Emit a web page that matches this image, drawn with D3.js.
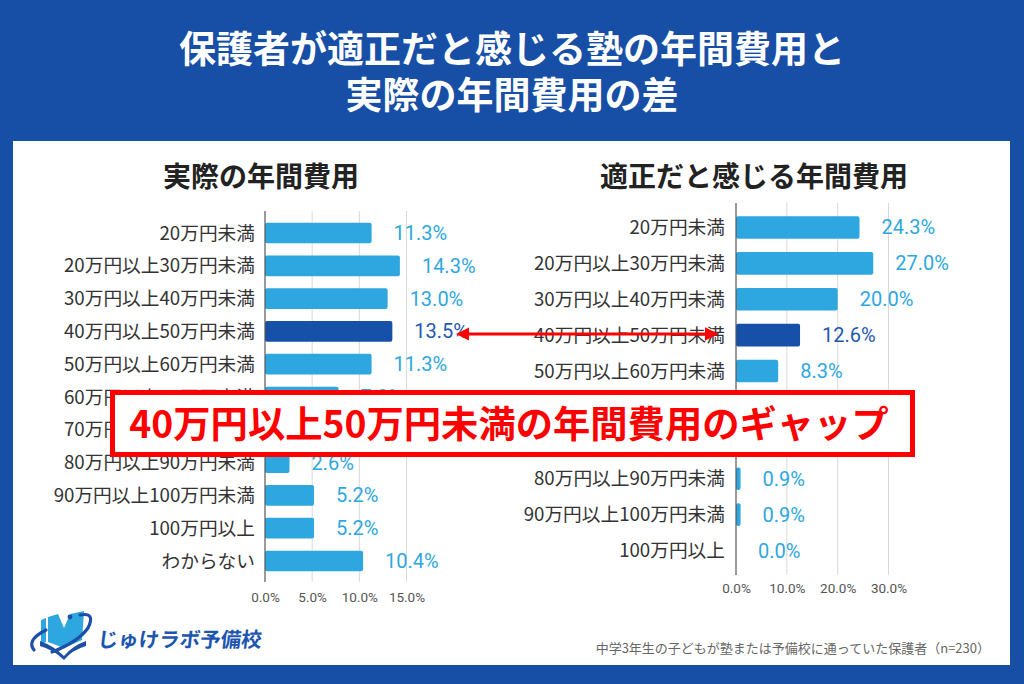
<!DOCTYPE html>
<html><head><meta charset="utf-8">
<script src="https://cdn.jsdelivr.net/npm/d3@7"></script>
<style>
html,body{margin:0;padding:0;background:#174EA6;}
svg{display:block;}
text{font-family:"Noto Sans CJK JP","Noto Sans",sans-serif;}
.num{font-family:Roboto,"Noto Sans",sans-serif;}
</style></head>
<body>
<svg id="chart" width="1024" height="684"></svg>
<script>
// ---- data ----
const titleLines = ["保護者が適正だと感じる塾の年間費用と", "実際の年間費用の差"];
const leftTitle = "実際の年間費用";
const rightTitle = "適正だと感じる年間費用";
const leftCats = ["20万円未満","20万円以上30万円未満","30万円以上40万円未満","40万円以上50万円未満","50万円以上60万円未満","60万円以上70万円未満","70万円以上80万円未満","80万円以上90万円未満","90万円以上100万円未満","100万円以上","わからない"];
const leftVals = [11.3,14.3,13.0,13.5,11.3,7.8,5.2,2.6,5.2,5.2,10.4];
const rightCats = ["20万円未満","20万円以上30万円未満","30万円以上40万円未満","40万円以上50万円未満","50万円以上60万円未満","60万円以上70万円未満","70万円以上80万円未満","80万円以上90万円未満","90万円以上100万円未満","100万円以上"];
const rightVals = [24.3,27.0,20.0,12.6,8.3,4.3,1.7,0.9,0.9,0.0];
const leftTicks = [0,5,10,15];
const rightTicks = [0,10,20,30];
const highlightCat = "40万円以上50万円未満";
const bannerText = "40万円以上50万円未満の年間費用のギャップ";
const logoText = "じゅけラボ予備校";
const footnote = "中学3年生の子どもが塾または予備校に通っていた保護者（n=230）";

const BAR = "#2EA7E0", BAR_HI = "#1650A8", LBL = "#2EA7E0", LBL_HI = "#2457B0";

const svg = d3.select("#chart");
svg.append("rect").attr("x",0).attr("y",0).attr("width",1024).attr("height",684).attr("fill","#174EA6");
svg.append("rect").attr("x",13).attr("y",141).attr("width",997).attr("height",524).attr("fill","#fff");

// title
svg.selectAll("text.title").data(titleLines).enter().append("text")
  .attr("class","title").attr("x",512).attr("y",(d,i)=>47+i*46)
  .attr("text-anchor","middle").attr("dominant-baseline","central")
  .attr("fill","#fff").attr("font-size",37).attr("font-weight",700).text(d=>d);

function panel(cfg){
  const g = svg.append("g");
  const x = d3.scaleLinear().domain([0,cfg.max]).range([cfg.x0,cfg.x1]);
  const y = d3.scaleBand().domain(cfg.cats).range([cfg.y0,cfg.y1]).paddingInner(0.37).paddingOuter(0.185);
  // subtitle
  g.append("text").attr("x",cfg.titleX).attr("y",174.5).attr("text-anchor","middle")
    .attr("dominant-baseline","central").attr("font-size",28).attr("font-weight",700)
    .attr("fill","#222").text(cfg.title);
  // grid
  g.selectAll("line.grid").data(cfg.ticks.slice(1)).enter().append("line")
    .attr("x1",d=>x(d)).attr("x2",d=>x(d)).attr("y1",cfg.ly0).attr("y2",cfg.ly1)
    .attr("stroke","#d9d9d9").attr("stroke-width",1);
  // x axis tick labels
  const ax = d3.axisBottom(x).tickValues(cfg.ticks).tickFormat(d=>d.toFixed(1)+"%").tickSize(0);
  const axg = g.append("g").attr("transform",`translate(0,${cfg.tickY})`).call(ax);
  axg.select(".domain").remove();
  axg.selectAll("text").attr("class","num").attr("font-size",13.5).attr("fill","#555")
    .attr("dy","0.35em").attr("y",0).style("font-family","Roboto,'Noto Sans',sans-serif");
  // bars
  g.selectAll("rect.bar").data(cfg.cats).enter().append("rect")
    .attr("x",x(0)).attr("y",d=>y(d)).attr("height",y.bandwidth())
    .attr("width",(d,i)=>Math.max(0,x(cfg.vals[i])-x(0)))
    .attr("rx",2).attr("fill",d=>d===highlightCat?BAR_HI:BAR);
  // value labels
  g.selectAll("text.val").data(cfg.cats).enter().append("text")
    .attr("class","num").attr("x",(d,i)=>x(cfg.vals[i])+22).attr("y",d=>y(d)+y.bandwidth()/2)
    .attr("dominant-baseline","central").attr("font-size",20)
    .attr("fill",d=>d===highlightCat?LBL_HI:LBL)
    .text((d,i)=>cfg.vals[i].toFixed(1)+"%");
  // category labels
  const ay = d3.axisLeft(y).tickSize(0).tickPadding(0);
  const ayg = g.append("g").attr("transform",`translate(${cfg.labelX},0)`).call(ay);
  ayg.select(".domain").remove();
  ayg.selectAll("text").attr("font-size",18.7).attr("fill","#333").attr("dy","0.35em")
    .style("font-family","'Noto Sans CJK JP',sans-serif");
  // axis line
  g.append("line").attr("x1",x(0)).attr("x2",x(0)).attr("y1",cfg.ly0).attr("y2",cfg.ly1)
    .attr("stroke","#555").attr("stroke-width",1.2);
  return {x,y};
}

const L = panel({cats:leftCats,vals:leftVals,ticks:leftTicks,max:15,x0:265,x1:406.5,
  y0:216.6,y1:577.4,ly0:211,ly1:582,tickY:597,labelX:255,title:leftTitle,titleX:261});
const R = panel({cats:rightCats,vals:rightVals,ticks:rightTicks,max:30,x0:736,x1:888.5,
  y0:209.5,y1:568.5,ly0:203,ly1:575,tickY:588,labelX:725,title:rightTitle,titleX:754});

// red double arrow
const defs = svg.append("defs");
["s","e"].forEach(k=>{
  defs.append("marker").attr("id","arr"+k).attr("viewBox","0 0 10 10").attr("refX",k==="e"?9:1).attr("refY",5)
    .attr("markerWidth",4.5).attr("markerHeight",4.5).attr("orient","auto-start-reverse")
    .append("path").attr("d","M0,0 L10,5 L0,10 Z").attr("fill","#ff0000");
});
const ay = 334;
svg.append("line").attr("x1",468).attr("x2",717).attr("y1",ay).attr("y2",ay)
  .attr("stroke","#ff0000").attr("stroke-width",3)
  .attr("marker-start","url(#arrs)").attr("marker-end","url(#arre)");

// banner
svg.append("rect").attr("x",112.5).attr("y",392.5).attr("width",800).attr("height",62)
  .attr("fill","#fff").attr("stroke","#ff0000").attr("stroke-width",5);
svg.append("text").attr("x",509).attr("y",422).attr("text-anchor","middle")
  .attr("dominant-baseline","central").attr("font-size",37.3).attr("font-weight",700)
  .attr("fill","#ff0000").text(bannerText);

// logo
const lg = svg.append("g");
lg.append("path").attr("d","M41,620 L46,618 L46,642 L41,644 Z").attr("fill","#2EA7E0");
lg.append("path").attr("d","M48,617 L58,614 L64,628 L70,614 L84,611 L82,640 L64,648 L48,642 Z").attr("fill","#2EA7E0");
lg.append("path").attr("d","M40,641 Q54,646 64,656 Q72,646 86,641 L86,646 Q72,650 64,660 Q54,650 40,646 Z").attr("fill","#1D4FA6");
lg.append("path").attr("d","M34,650 Q26,640 46,630 M80,615 Q96,612 88,628 Q78,642 52,652")
  .attr("fill","none").attr("stroke","#1D4FA6").attr("stroke-width",3.2).attr("stroke-linecap","round");
lg.append("circle").attr("cx",70).attr("cy",617).attr("r",2.4).attr("fill","#1D4FA6");
lg.append("text").attr("x",98).attr("y",638).attr("dominant-baseline","central")
  .attr("font-size",20.5).attr("font-weight",700).attr("fill","#1D56B0")
  .attr("transform","skewX(-6) translate(67,0)").text(logoText);

// footnote
svg.append("text").attr("x",990).attr("y",647).attr("text-anchor","end")
  .attr("dominant-baseline","central").attr("font-size",13).attr("fill","#666").text(footnote);
</script>
</body></html>
